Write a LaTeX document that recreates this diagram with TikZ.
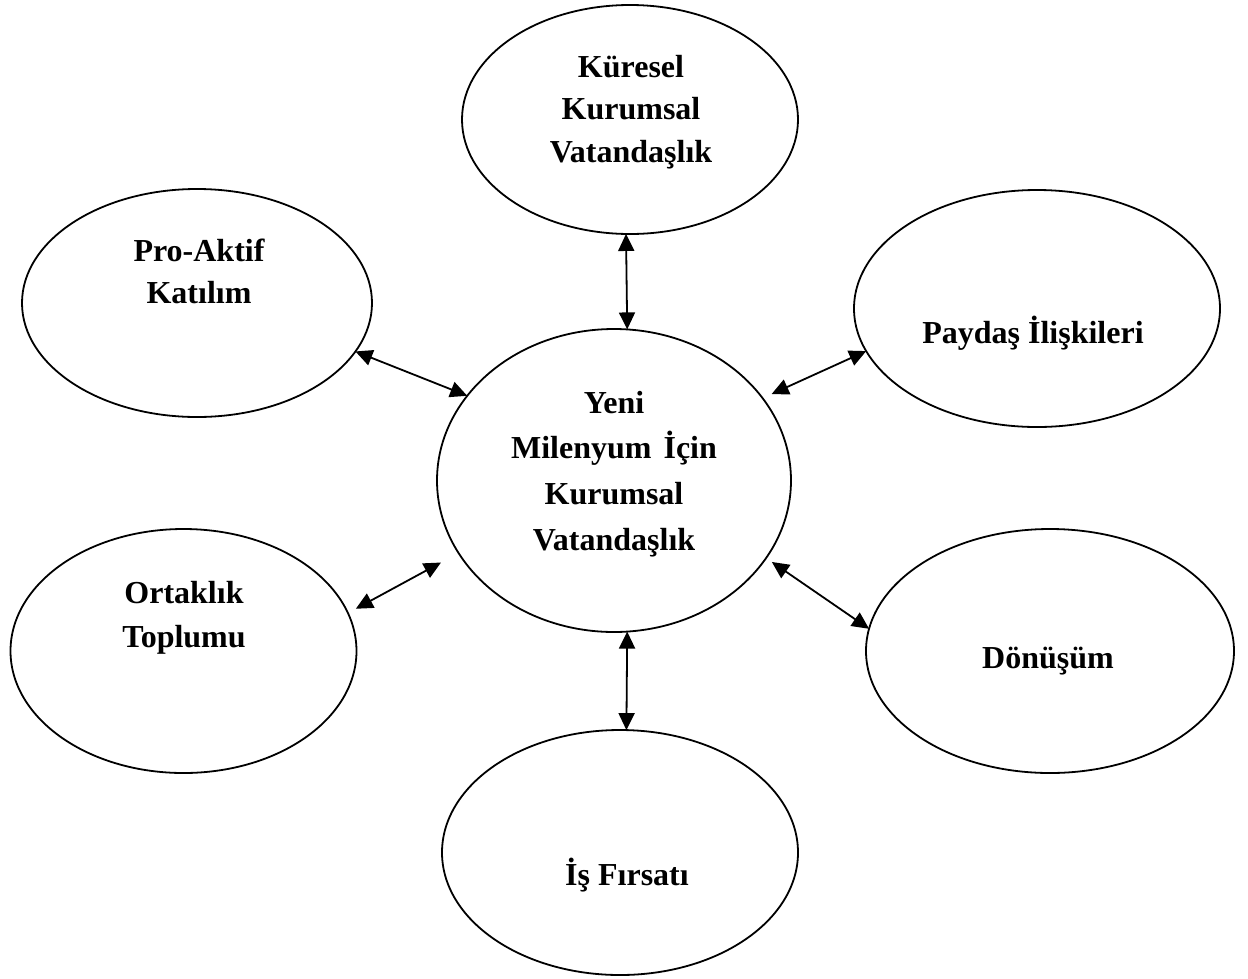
\documentclass[tikz,border=0pt]{standalone}
\usepackage{fontspec}
\setmainfont{Liberation Serif}
\usetikzlibrary{arrows.meta,shapes.geometric}
\begin{document}
\begin{tikzpicture}[x=1pt,y=-1pt,
  ell/.style={draw, ellipse, line width=1.8pt, inner sep=0pt, outer sep=0pt},
  lbl/.style={anchor=base, inner sep=0pt, outer sep=0pt},
  link/.style={{Triangle[length=17pt,width=16pt]}-{Triangle[length=17pt,width=16pt]}, line width=1.8pt}]
\useasboundingbox[fill=white] (0,0) rectangle (1248,978);
% ellipses
\node[ell, minimum width=336pt, minimum height=229pt] (top) at (630,119.5) {};
\node[ell, minimum width=350pt, minimum height=228pt] (pro) at (197,303) {};
\node[ell, minimum width=366pt, minimum height=237pt] (pay) at (1037,308.5) {};
\node[ell, minimum width=354pt, minimum height=303pt] (cen) at (614,480.5) {};
\node[ell, minimum width=346pt, minimum height=244pt] (ort) at (183.5,651) {};
\node[ell, minimum width=368pt, minimum height=244pt] (don) at (1050,651) {};
\node[ell, minimum width=356pt, minimum height=245pt] (is) at (620,852.5) {};
% labels
\node[lbl] (ttop) at (631,77) {\fontsize{32}{42.5}\selectfont\bfseries\begin{tabular}[t]{@{}c@{}}Küresel\\Kurumsal\\Vatandaşlık\end{tabular}};
\node[lbl] (tpro) at (199,261) {\fontsize{32}{42.3}\selectfont\bfseries\begin{tabular}[t]{@{}c@{}}Pro-Aktif\\Katılım\end{tabular}};
\node[lbl] (tpay) at (1033,343) {\fontsize{32}{42.5}\selectfont\bfseries Paydaş İlişkileri};
\node[lbl] (tcen) at (614,413) {\fontsize{32}{45.7}\selectfont\bfseries\begin{tabular}[t]{@{}c@{}}Yeni\\Milenyum\hspace{4pt} İçin\\Kurumsal\\Vatandaşlık\end{tabular}};
\node[lbl] (tort) at (184,603) {\fontsize{32}{44}\selectfont\bfseries\begin{tabular}[t]{@{}c@{}}Ortaklık\\Toplumu\end{tabular}};
\node[lbl] (tdon) at (1048,668) {\fontsize{32}{42.5}\selectfont\bfseries Dönüşüm};
\node[lbl] (tis) at (627,885) {\fontsize{32}{42.5}\selectfont\bfseries İş Fırsatı};
% connectors
\draw[link] (top.-92.5) -- (cen.85.85);
\draw[link] (pro.-17.4) -- (cen.150.5);
\draw[link, shorten >=10pt] (pay.194.9) -- (cen.29.1);
\draw[link, shorten <=9pt, shorten >=20pt] (ort.13) -- (cen.205.5);
\draw[link, shorten >=7pt] (don.173.5) -- (cen.-27.7);
\draw[link] (cen.-85.85) -- (is.87.7);
\end{tikzpicture}
\end{document}
